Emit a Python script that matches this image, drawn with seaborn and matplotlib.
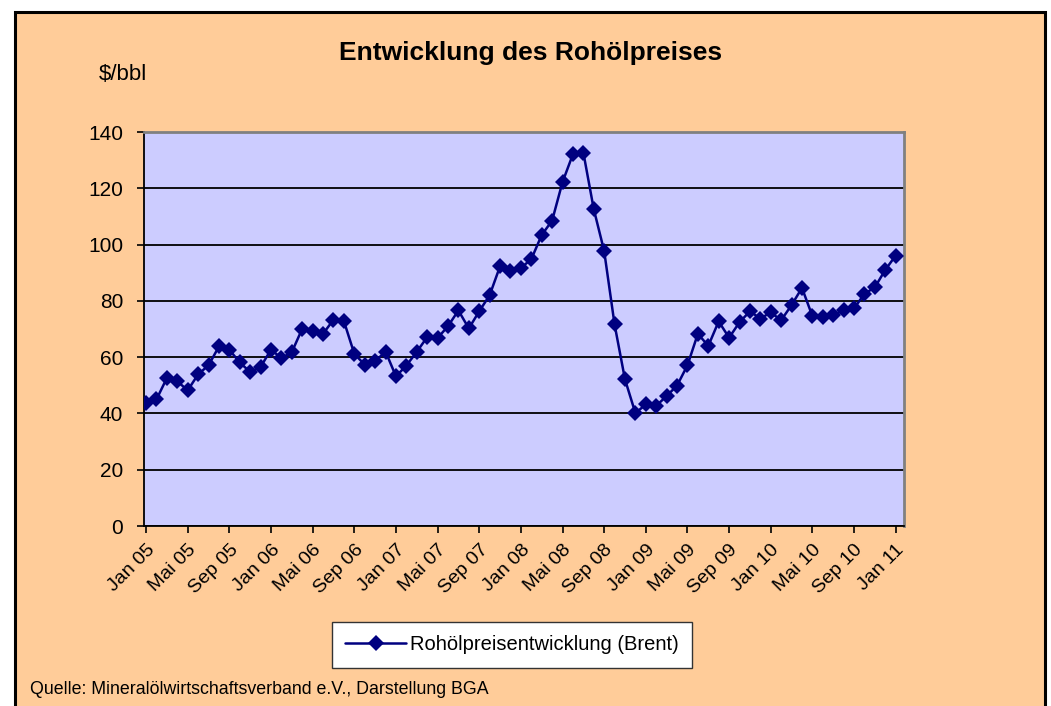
import numpy as np
import pandas as pd
import matplotlib
matplotlib.use('Agg')
import matplotlib.pyplot as plt
import matplotlib.transforms as mtransforms
from matplotlib.patches import Rectangle
import seaborn as sns

# Brent monthly average, Jan 05 .. Jan 11 ($/bbl)
prices_2005 = [43.7, 45.0, 52.6, 51.4, 48.2, 53.9, 57.1, 63.8, 62.6, 58.1, 54.7, 56.5]
prices_2006 = [62.7, 59.6, 61.8, 70.1, 69.2, 68.3, 73.3, 72.8, 61.2, 57.3, 58.5, 62.0]
prices_2007 = [53.2, 57.0, 61.9, 67.1, 66.8, 71.0, 76.6, 70.2, 76.3, 82.0, 92.3, 90.5]
prices_2008 = [91.7, 94.8, 103.4, 108.5, 122.2, 132.1, 132.7, 112.6, 97.7, 71.6, 52.1, 40.1]
prices_2009 = [43.2, 42.7, 46.2, 49.9, 57.1, 68.3, 64.0, 72.7, 66.9, 72.4, 76.3, 73.7]
prices_2010 = [75.9, 73.1, 78.5, 84.6, 74.6, 74.4, 74.9, 76.7, 77.3, 82.5, 84.8, 91.0]
prices_2011 = [96.1]

tick_labels = ['Jan 05', 'Mai 05', 'Sep 05', 'Jan 06', 'Mai 06', 'Sep 06',
               'Jan 07', 'Mai 07', 'Sep 07', 'Jan 08', 'Mai 08', 'Sep 08',
               'Jan 09', 'Mai 09', 'Sep 09', 'Jan 10', 'Mai 10', 'Sep 10', 'Jan 11']
y_ticks = [0, 20, 40, 60, 80, 100, 120, 140]

series_name = 'Rohölpreisentwicklung (Brent)'
title = 'Entwicklung des Rohölpreises'
unit = '$/bbl'
source = 'Quelle: Mineralölwirtschaftsverband e.V., Darstellung BGA'

prices = (prices_2005 + prices_2006 + prices_2007 + prices_2008
          + prices_2009 + prices_2010 + prices_2011)
df = pd.DataFrame({'month': np.arange(len(prices)), 'price': prices, 'series': series_name})

# Style
sns.set_style('white')
plt.rcParams['font.family'] = ['Liberation Sans', 'DejaVu Sans']
plt.rcParams['text.color'] = 'black'
plt.rcParams['xtick.color'] = 'black'
plt.rcParams['ytick.color'] = 'black'

W, H = 1051, 706
fig = plt.figure(figsize=(W / 100, H / 100), dpi=100)
fig.patch.set_facecolor('white')

# orange chart panel with black frame
panel = Rectangle((15 / W, -0.02), (1045 - 15) / W, (H - 12) / H + 0.02,
                  transform=fig.transFigure, facecolor='#FFCC99',
                  edgecolor='black', linewidth=2.2, zorder=-5)
fig.patches.append(panel)

ax = fig.add_axes([144 / W, 1 - 526 / H, (904 - 144) / W, (526 - 132) / H])
ax.set_zorder(2)
ax.set_facecolor('#CCCCFF')

sns.lineplot(data=df, x='month', y='price', hue='series', palette=['#000080'],
             marker='D', markersize=8, markeredgewidth=0, linewidth=1.8,
             ax=ax, zorder=3)

ax.set_xlim(-0.2, 72.8)
ax.set_ylim(0, 140)
ax.set_yticks(y_ticks)
ax.set_yticklabels([str(v) for v in y_ticks], fontsize=15)
ax.set_xticks(np.arange(0, len(prices), 4))
ax.set_xticklabels(tick_labels, fontsize=14, rotation=45, ha='right',
                   rotation_mode='anchor')
offset = mtransforms.ScaledTranslation(9 / 100, -4 / 100, fig.dpi_scale_trans)
for lbl in ax.get_xticklabels():
    lbl.set_transform(lbl.get_transform() + offset)

ax.tick_params(axis='both', direction='out', length=5, width=1.2, color='black',
               left=True, bottom=True, pad=6)
ax.tick_params(axis='y', pad=10)
ax.set_xlabel('')
ax.set_ylabel('')

ax.yaxis.grid(True, color='black', linewidth=1.3)
ax.set_axisbelow(True)
for side in ['left', 'bottom']:
    ax.spines[side].set_color('black')
    ax.spines[side].set_linewidth(1.3)
for side in ['top', 'right']:
    ax.spines[side].set_color('#808080')
    ax.spines[side].set_linewidth(2)

ax.legend(loc='center', bbox_to_anchor=(512 / W, 1 - 645 / H),
          bbox_transform=fig.transFigure, fontsize=14.5, frameon=True,
          fancybox=False, framealpha=1, edgecolor='#333333', facecolor='white',
          borderpad=0.65, handlelength=3.0, handletextpad=0.2, borderaxespad=0)

fig.text(531 / W, 1 - 53 / H, title, ha='center', va='center',
         fontsize=19, fontweight='bold')
fig.text(123 / W, 1 - 75 / H, unit, ha='center', va='center', fontsize=16)
fig.text(30 / W, 1 - 690 / H, source, ha='left', va='center', fontsize=12.8)

fig.savefig('out.png', dpi=100)
